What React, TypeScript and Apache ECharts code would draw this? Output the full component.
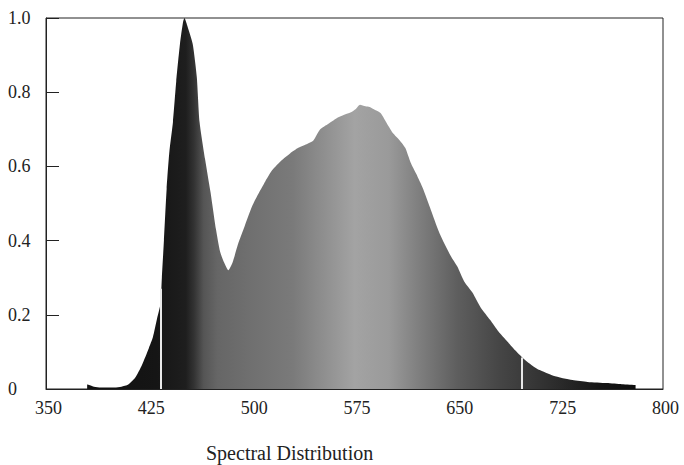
import React, { useEffect, useRef } from "react";
import * as echarts from "echarts";

const wavelengths = [
  380, 382, 385, 390, 395, 400, 405, 410, 415, 420, 425, 428, 431, 433.5, 434.5,
  436, 438, 440, 442.6, 445, 447.7, 450, 451, 453, 457, 460, 462, 466, 470, 474,
  477, 480, 483, 486, 490, 495, 500, 504, 510, 515, 520, 523, 528, 534, 540, 545,
  550, 556, 562, 568, 572, 576, 579, 583, 586, 590, 594, 598, 603, 608, 612, 616,
  620, 625, 630, 637, 645, 650, 655, 661, 667, 674, 680, 686, 692, 698, 704, 710,
  720, 734, 745, 759, 770, 780,
];
const intensities = [
  0.012, 0.01, 0.006, 0.004, 0.004, 0.004, 0.006, 0.012, 0.03, 0.065, 0.11, 0.14,
  0.19, 0.23, 0.3, 0.4, 0.54, 0.64, 0.72, 0.83, 0.93, 0.99, 1.0, 0.98, 0.93, 0.84,
  0.72, 0.62, 0.53, 0.43, 0.37, 0.34, 0.32, 0.34, 0.39, 0.44, 0.49, 0.52, 0.56,
  0.59, 0.61, 0.62, 0.635, 0.65, 0.66, 0.67, 0.7, 0.715, 0.73, 0.74, 0.745, 0.755,
  0.766, 0.762, 0.76, 0.752, 0.744, 0.72, 0.69, 0.67, 0.65, 0.61, 0.58, 0.54, 0.49,
  0.42, 0.36, 0.33, 0.29, 0.26, 0.22, 0.186, 0.155, 0.13, 0.105, 0.083, 0.065,
  0.051, 0.036, 0.024, 0.019, 0.016, 0.013, 0.011,
];
// white streaks seen in the fill: [wavelength, height]
const streaks = [
  [434, 0.27],
  [697, 0.085],
];
const xTicks = { min: 350, max: 800, interval: 75 };
const yTicks = { min: 0, max: 1, interval: 0.2 };
const titleText = "Spectral Distribution";

const shadeStops = [
  [0, "#111111"],
  [0.125, "#151515"],
  [0.18, "#1e1e1e"],
  [0.195, "#333333"],
  [0.2125, "#555555"],
  [0.2375, "#666666"],
  [0.3, "#707070"],
  [0.375, "#7a7a7a"],
  [0.4375, "#919191"],
  [0.4875, "#a3a3a3"],
  [0.55, "#9a9a9a"],
  [0.6, "#818181"],
  [0.675, "#5e5e5e"],
  [0.75, "#464646"],
  [0.8, "#3a3a3a"],
  [0.8625, "#2a2a2a"],
  [0.9375, "#151515"],
  [1, "#0e0e0e"],
];

export default function App() {
  const ref = useRef<HTMLDivElement>(null);
  useEffect(() => {
    if (!ref.current) return;
    const chart = echarts.init(ref.current, null, { renderer: "svg" });
    const font = "Liberation Serif";
    chart.setOption({
      animation: false,
      backgroundColor: "#ffffff",
      title: {
        text: titleText,
        left: 206,
        top: 443,
        padding: 0,
        textStyle: {
          fontFamily: font,
          fontSize: 20,
          lineHeight: 20,
          fontWeight: "normal",
          color: "#222",
        },
      },
      grid: {
        left: 46,
        right: 21,
        top: 18,
        bottom: 76,
        show: true,
        borderColor: "#222",
        borderWidth: 1,
        containLabel: false,
      },
      xAxis: {
        type: "value",
        min: xTicks.min,
        max: xTicks.max,
        interval: xTicks.interval,
        axisLine: { show: true, lineStyle: { color: "#222", width: 1 } },
        axisTick: { show: false },
        splitLine: { show: false },
        axisLabel: {
          margin: 10,
          fontFamily: font,
          fontSize: 18,
          color: "#222",
          padding: [0, 0, 0, 5],
        },
      },
      yAxis: {
        type: "value",
        min: yTicks.min,
        max: yTicks.max,
        interval: yTicks.interval,
        axisLine: { show: true, lineStyle: { color: "#222", width: 1 } },
        axisTick: { show: true, inside: true, length: 13, lineStyle: { color: "#222" } },
        splitLine: { show: false },
        axisLabel: {
          margin: 38,
          align: "left",
          fontFamily: font,
          fontSize: 18,
          color: "#222",
          formatter: (v: number) => (v === 0 ? "0" : v.toFixed(1)),
        },
      },
      series: [
        {
          type: "line",
          data: wavelengths.map((w, i) => [w, intensities[i]]),
          symbol: "none",
          smooth: 0.2,
          lineStyle: { width: 0 },
          areaStyle: {
            opacity: 1,
            color: new echarts.graphic.LinearGradient(
              0,
              0,
              1,
              0,
              shadeStops.map(([o, c]) => ({ offset: o as number, color: c as string }))
            ),
          },
          markLine: {
            silent: true,
            symbol: "none",
            label: { show: false },
            lineStyle: { color: "#e8e8e8", width: 2, type: "solid" },
            data: streaks.map(([w, h]) => [
              { coord: [w, 0] },
              { coord: [w, h] },
            ]),
          },
        },
      ],
    });
    return () => chart.dispose();
  }, []);
  return (
    <div
      ref={ref}
      style={{ position: "absolute", left: 0, top: 0, width: 684, height: 465 }}
    />
  );
}
